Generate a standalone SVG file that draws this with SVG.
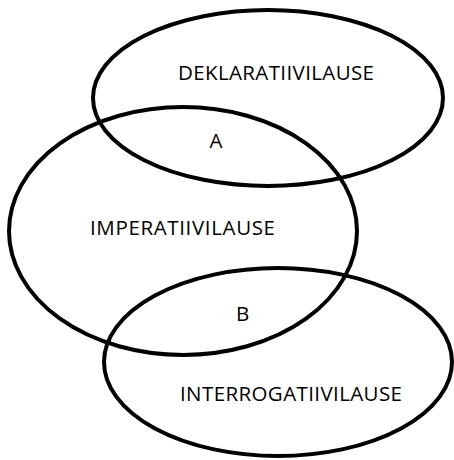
<svg xmlns="http://www.w3.org/2000/svg" width="454" height="460" viewBox="0 0 454 460">
<style>
.e{fill:none;stroke:#000;stroke-width:4}
.t{font-family:"Open Sans","Liberation Sans",sans-serif;font-size:20.5px;fill:#000}
.c{text-anchor:middle}
</style>
<rect width="454" height="460" fill="#fff"/>
<g id="deklaratiivilause"><ellipse class="e" cx="268" cy="98" rx="175" ry="88"/><text class="t" x="178" y="80" textLength="196" lengthAdjust="spacing">DEKLARATIIVILAUSE</text></g>
<g id="imperatiivilause"><ellipse class="e" cx="183" cy="231" rx="174" ry="124"/><text class="t" x="90" y="235" textLength="185" lengthAdjust="spacing">IMPERATIIVILAUSE</text></g>
<g id="interrogatiivilause"><ellipse class="e" cx="278" cy="362" rx="174" ry="94"/><text class="t" x="180" y="401" textLength="222" lengthAdjust="spacing">INTERROGATIIVILAUSE</text></g>
<g id="label-a"><text class="t c" x="216" y="148">A</text></g>
<g id="label-b"><text class="t c" x="242.5" y="321">B</text></g>
</svg>
